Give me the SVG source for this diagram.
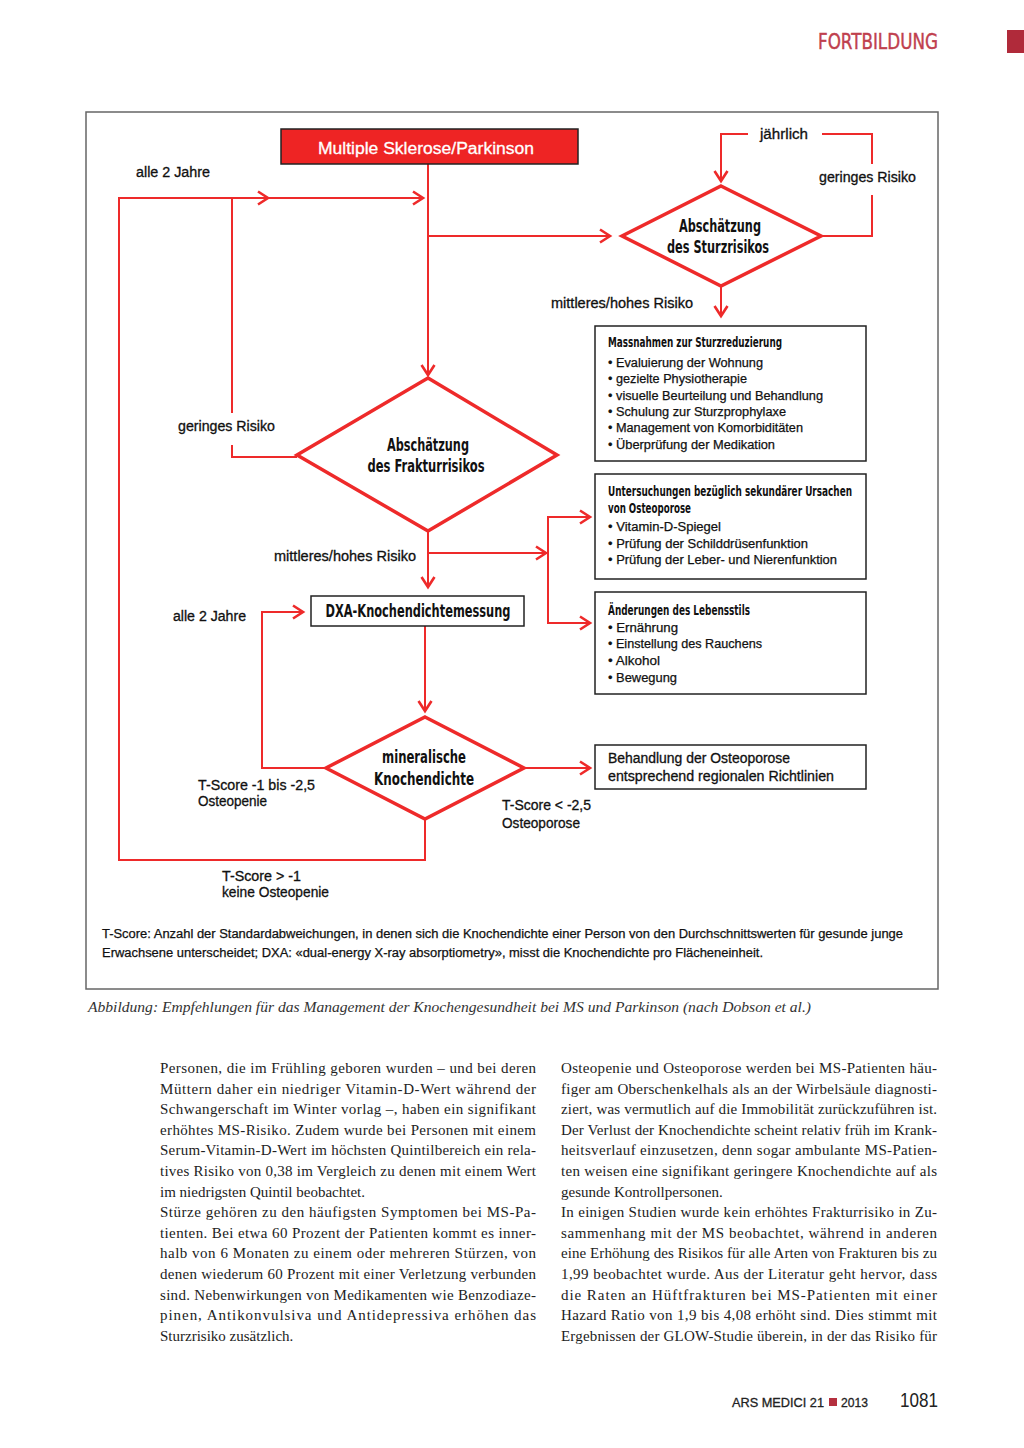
<svg xmlns="http://www.w3.org/2000/svg" width="1024" height="1448" viewBox="0 0 1024 1448">
<defs>
<style>
.c{fill:none;stroke:#ee2a2a;stroke-width:2}
.d{fill:#fff;stroke:#ee2a2a;stroke-width:3.5}
.b{fill:#fff;stroke:#222;stroke-width:1.5}
.l{font-family:"Liberation Sans","DejaVu Sans",sans-serif;font-size:14px;fill:#111;stroke:#111;stroke-width:0.3}
.s{font-family:"Liberation Sans","DejaVu Sans",sans-serif;font-size:12.5px;fill:#111;stroke:#111;stroke-width:0.25}
.t{font-family:"Liberation Sans Narrow","DejaVu Sans Condensed","Liberation Sans",sans-serif;font-weight:bold;font-size:18px;fill:#111}
.h{font-family:"Liberation Sans Narrow","DejaVu Sans Condensed","Liberation Sans",sans-serif;font-weight:bold;font-size:13.5px;fill:#111}
.p{font-family:"Liberation Serif","DejaVu Serif",serif;font-size:15px;fill:#222}
</style>
<marker id="a" markerWidth="16" markerHeight="16" refX="13" refY="8" orient="auto" markerUnits="userSpaceOnUse">
<path d="M3,1.5 L13,8 L3,14.5" fill="none" stroke="#ee2a2a" stroke-width="2.6"/>
</marker>
</defs>

<!-- page header -->
<text x="818" y="49" font-family="'Liberation Sans Narrow','DejaVu Sans Condensed','Liberation Sans',sans-serif" font-size="22" fill="#c0404e" stroke="#c0404e" stroke-width="0.4" textLength="120" lengthAdjust="spacingAndGlyphs">FORTBILDUNG</text>
<rect x="1007" y="30" width="17" height="23" fill="#b02a3a"/>

<!-- frame -->
<rect x="86" y="112" width="852" height="877" fill="none" stroke="#666" stroke-width="1.5"/>

<!-- connectors -->
<g id="connectors">
<path class="c" d="M428,164 V375" marker-end="url(#a)"/>
<path class="c" d="M428,236 H610" marker-end="url(#a)"/>
<path class="c" d="M748,134 H721 V181" marker-end="url(#a)"/>
<path class="c" d="M821,236 H872 V195 M872,164 V134 H822"/>
<path class="c" d="M721,286 V316" marker-end="url(#a)"/>
<path class="c" d="M425,819 V860 H119 V198 H268" marker-end="url(#a)"/>
<path class="c" d="M266,198 H423" marker-end="url(#a)"/>
<path class="c" d="M297,457 H232 V445 M232,413 V198"/>
<path class="c" d="M428,531 V587" marker-end="url(#a)"/>
<path class="c" d="M428,553 H546" marker-end="url(#a)"/>
<path class="c" d="M548,553 V517 H590" marker-end="url(#a)"/>
<path class="c" d="M548,553 V623 H590" marker-end="url(#a)"/>
<path class="c" d="M425,626 V711" marker-end="url(#a)"/>
<path class="c" d="M326,768 H262 V612 H303" marker-end="url(#a)"/>
<path class="c" d="M524,768 H590" marker-end="url(#a)"/>
</g>

<!-- nodes -->
<g id="ms">
<rect x="281" y="129" width="297" height="35" fill="#ee2424" stroke="#222" stroke-width="1.5"/>
<text x="426" y="154" text-anchor="middle" font-family="'Liberation Sans','DejaVu Sans',sans-serif" font-size="16" fill="#fff" stroke="#fff" stroke-width="0.3" textLength="216" lengthAdjust="spacingAndGlyphs">Multiple Sklerose/Parkinson</text>
</g>

<g id="sturz">
<polygon class="d" points="721,186 821,236 721,286 622,236"/>
<text class="t" x="720" y="232" text-anchor="middle" textLength="82" lengthAdjust="spacingAndGlyphs">Abschätzung</text>
<text class="t" x="718" y="253" text-anchor="middle" textLength="102" lengthAdjust="spacingAndGlyphs">des Sturzrisikos</text>
</g>

<g id="massnahmen">
<rect class="b" x="595" y="326" width="271" height="135"/>
<text class="h" x="608" y="347" textLength="174" lengthAdjust="spacingAndGlyphs">Massnahmen zur Sturzreduzierung</text>
<text class="s" x="608" y="367" textLength="155" lengthAdjust="spacingAndGlyphs">• Evaluierung der Wohnung</text>
<text class="s" x="608" y="383" textLength="139" lengthAdjust="spacingAndGlyphs">• gezielte Physiotherapie</text>
<text class="s" x="608" y="400" textLength="215" lengthAdjust="spacingAndGlyphs">• visuelle Beurteilung und Behandlung</text>
<text class="s" x="608" y="416" textLength="178" lengthAdjust="spacingAndGlyphs">• Schulung zur Sturzprophylaxe</text>
<text class="s" x="608" y="432" textLength="195" lengthAdjust="spacingAndGlyphs">• Management von Komorbiditäten</text>
<text class="s" x="608" y="449" textLength="167" lengthAdjust="spacingAndGlyphs">• Überprüfung der Medikation</text>
</g>

<g id="fraktur">
<polygon class="d" points="428,378 557,455 428,531 297,455"/>
<text class="t" x="428" y="451" text-anchor="middle" textLength="82" lengthAdjust="spacingAndGlyphs">Abschätzung</text>
<text class="t" x="426" y="472" text-anchor="middle" textLength="117" lengthAdjust="spacingAndGlyphs">des Frakturrisikos</text>
</g>

<g id="untersuchungen">
<rect class="b" x="595" y="474" width="271" height="105"/>
<text class="h" x="608" y="496" textLength="244" lengthAdjust="spacingAndGlyphs">Untersuchungen bezüglich sekundärer Ursachen</text>
<text class="h" x="608" y="513" textLength="83" lengthAdjust="spacingAndGlyphs">von Osteoporose</text>
<text class="s" x="608" y="531" textLength="113" lengthAdjust="spacingAndGlyphs">• Vitamin-D-Spiegel</text>
<text class="s" x="608" y="548" textLength="200" lengthAdjust="spacingAndGlyphs">• Prüfung der Schilddrüsenfunktion</text>
<text class="s" x="608" y="564" textLength="229" lengthAdjust="spacingAndGlyphs">• Prüfung der Leber- und Nierenfunktion</text>
</g>

<g id="lebensstil">
<rect class="b" x="595" y="592" width="271" height="102"/>
<text class="h" x="608" y="615" textLength="142" lengthAdjust="spacingAndGlyphs">Änderungen des Lebensstils</text>
<text class="s" x="608" y="632" textLength="70" lengthAdjust="spacingAndGlyphs">• Ernährung</text>
<text class="s" x="608" y="648" textLength="154" lengthAdjust="spacingAndGlyphs">• Einstellung des Rauchens</text>
<text class="s" x="608" y="665" textLength="52" lengthAdjust="spacingAndGlyphs">• Alkohol</text>
<text class="s" x="608" y="682" textLength="69" lengthAdjust="spacingAndGlyphs">• Bewegung</text>
</g>

<g id="dxa">
<rect class="b" x="311" y="596" width="213" height="30"/>
<text class="t" x="418" y="617" text-anchor="middle" textLength="185" lengthAdjust="spacingAndGlyphs">DXA-Knochendichtemessung</text>
</g>

<g id="mineral">
<polygon class="d" points="425,717 524,768 425,819 326,768"/>
<text class="t" x="424" y="763" text-anchor="middle" textLength="84" lengthAdjust="spacingAndGlyphs">mineralische</text>
<text class="t" x="424" y="785" text-anchor="middle" textLength="100" lengthAdjust="spacingAndGlyphs">Knochendichte</text>
</g>

<g id="behandlung">
<rect class="b" x="595" y="745" width="271" height="44"/>
<text class="l" x="608" y="763" textLength="182" lengthAdjust="spacingAndGlyphs">Behandlung der Osteoporose</text>
<text class="l" x="608" y="781" textLength="226" lengthAdjust="spacingAndGlyphs">entsprechend regionalen Richtlinien</text>
</g>

<!-- edge labels -->
<g id="labels">
<text class="l" x="136" y="177" textLength="74" lengthAdjust="spacingAndGlyphs">alle 2 Jahre</text>
<text class="l" x="760" y="139" textLength="48" lengthAdjust="spacingAndGlyphs">jährlich</text>
<text class="l" x="819" y="182" textLength="97" lengthAdjust="spacingAndGlyphs">geringes Risiko</text>
<text class="l" x="551" y="308" textLength="142" lengthAdjust="spacingAndGlyphs">mittleres/hohes Risiko</text>
<text class="l" x="178" y="431" textLength="97" lengthAdjust="spacingAndGlyphs">geringes Risiko</text>
<text class="l" x="274" y="561" textLength="142" lengthAdjust="spacingAndGlyphs">mittleres/hohes Risiko</text>
<text class="l" x="173" y="621" textLength="73" lengthAdjust="spacingAndGlyphs">alle 2 Jahre</text>
<text class="l" x="198" y="790" textLength="117" lengthAdjust="spacingAndGlyphs">T-Score -1 bis -2,5</text>
<text class="l" x="198" y="806" textLength="69" lengthAdjust="spacingAndGlyphs">Osteopenie</text>
<text class="l" x="502" y="810" textLength="89" lengthAdjust="spacingAndGlyphs">T-Score &lt; -2,5</text>
<text class="l" x="502" y="828" textLength="78" lengthAdjust="spacingAndGlyphs">Osteoporose</text>
<text class="l" x="222" y="881" textLength="79" lengthAdjust="spacingAndGlyphs">T-Score &gt; -1</text>
<text class="l" x="222" y="897" textLength="107" lengthAdjust="spacingAndGlyphs">keine Osteopenie</text>
</g>

<!-- footnote -->
<text class="s" x="102" y="938" textLength="801" lengthAdjust="spacingAndGlyphs">T-Score: Anzahl der Standardabweichungen, in denen sich die Knochendichte einer Person von den Durchschnittswerten für gesunde junge</text>
<text class="s" x="102" y="957" textLength="661" lengthAdjust="spacingAndGlyphs">Erwachsene unterscheidet; DXA: «dual-energy X-ray absorptiometry», misst die Knochendichte pro Flächeneinheit.</text>

<!-- caption -->
<text x="88" y="1012" font-family="'Liberation Serif','DejaVu Serif',serif" font-style="italic" font-size="15" fill="#333" textLength="723" lengthAdjust="spacingAndGlyphs">Abbildung: Empfehlungen für das Management der Knochengesundheit bei MS und Parkinson (nach Dobson et al.)</text>

<!-- body text left column -->
<g class="p">
<text x="160" y="1073" textLength="376">Personen, die im Frühling geboren wurden – und bei deren</text>
<text x="160" y="1093.6" textLength="376">Müttern daher ein niedriger Vitamin-D-Wert während der</text>
<text x="160" y="1114.2" textLength="376">Schwangerschaft im Winter vorlag –, haben ein signifikant</text>
<text x="160" y="1134.8" textLength="376">erhöhtes MS-Risiko. Zudem wurde bei Personen mit einem</text>
<text x="160" y="1155.4" textLength="376">Serum-Vitamin-D-Wert im höchsten Quintilbereich ein rela-</text>
<text x="160" y="1176" textLength="376">tives Risiko von 0,38 im Vergleich zu denen mit einem Wert</text>
<text x="160" y="1196.6">im niedrigsten Quintil beobachtet.</text>
<text x="160" y="1217.2" textLength="376">Stürze gehören zu den häufigsten Symptomen bei MS-Pa-</text>
<text x="160" y="1237.8" textLength="376">tienten. Bei etwa 60 Prozent der Patienten kommt es inner-</text>
<text x="160" y="1258.4" textLength="376">halb von 6 Monaten zu einem oder mehreren Stürzen, von</text>
<text x="160" y="1279" textLength="376">denen wiederum 60 Prozent mit einer Verletzung verbunden</text>
<text x="160" y="1299.6" textLength="376">sind. Nebenwirkungen von Medikamenten wie Benzodiaze-</text>
<text x="160" y="1320.2" textLength="376">pinen, Antikonvulsiva und Antidepressiva erhöhen das</text>
<text x="160" y="1340.8">Sturzrisiko zusätzlich.</text>
</g>

<!-- body text right column -->
<g class="p">
<text x="561" y="1073" textLength="376">Osteopenie und Osteoporose werden bei MS-Patienten häu-</text>
<text x="561" y="1093.6" textLength="376">figer am Oberschenkelhals als an der Wirbelsäule diagnosti-</text>
<text x="561" y="1114.2" textLength="376">ziert, was vermutlich auf die Immobilität zurückzuführen ist.</text>
<text x="561" y="1134.8" textLength="376">Der Verlust der Knochendichte scheint relativ früh im Krank-</text>
<text x="561" y="1155.4" textLength="376">heitsverlauf einzusetzen, denn sogar ambulante MS-Patien-</text>
<text x="561" y="1176" textLength="376">ten weisen eine signifikant geringere Knochendichte auf als</text>
<text x="561" y="1196.6">gesunde Kontrollpersonen.</text>
<text x="561" y="1217.2" textLength="376">In einigen Studien wurde kein erhöhtes Frakturrisiko in Zu-</text>
<text x="561" y="1237.8" textLength="376">sammenhang mit der MS beobachtet, während in anderen</text>
<text x="561" y="1258.4" textLength="376">eine Erhöhung des Risikos für alle Arten von Frakturen bis zu</text>
<text x="561" y="1279" textLength="376">1,99 beobachtet wurde. Aus der Literatur geht hervor, dass</text>
<text x="561" y="1299.6" textLength="376">die Raten an Hüftfrakturen bei MS-Patienten mit einer</text>
<text x="561" y="1320.2" textLength="376">Hazard Ratio von 1,9 bis 4,08 erhöht sind. Dies stimmt mit</text>
<text x="561" y="1340.8" textLength="376">Ergebnissen der GLOW-Studie überein, in der das Risiko für</text>
</g>

<!-- footer -->
<text x="732" y="1407" font-family="'Liberation Sans','DejaVu Sans',sans-serif" font-size="13" fill="#222" stroke="#222" stroke-width="0.3" textLength="92" lengthAdjust="spacingAndGlyphs">ARS MEDICI 21</text>
<rect x="829" y="1398" width="8" height="8" fill="#b5303f"/>
<text x="841" y="1407" font-family="'Liberation Sans','DejaVu Sans',sans-serif" font-size="13" fill="#222" stroke="#222" stroke-width="0.3" textLength="27" lengthAdjust="spacingAndGlyphs">2013</text>
<text x="900" y="1407" font-family="'Liberation Sans','DejaVu Sans',sans-serif" font-size="20" fill="#222" textLength="38" lengthAdjust="spacingAndGlyphs">1081</text>
</svg>
